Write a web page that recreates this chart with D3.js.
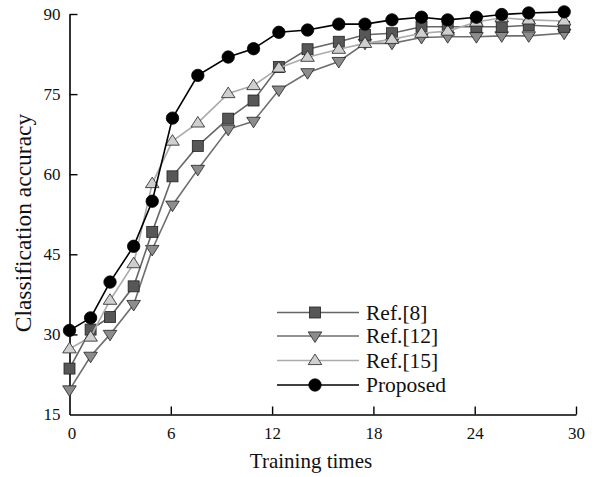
<!DOCTYPE html>
<html><head><meta charset="utf-8">
<script src="https://cdn.jsdelivr.net/npm/d3@7"></script>
<style>body{margin:0;background:#fff}svg{display:block}</style>
</head><body>
<svg id="c" width="595" height="477"></svg>
<script>
const xValues = [0, 1.25, 2.4, 3.8, 4.9, 6.1, 7.6, 9.4, 10.9, 12.4, 14.1, 15.95, 17.5, 19.1, 20.85, 22.4, 24.1, 25.6, 27.2, 29.3];
const ref8 = [23.6, 30.9, 33.25, 39, 49.2, 59.6, 65.3, 70.4, 73.8, 80.1, 83.4, 84.8, 86.1, 86.4, 87.6, 87.6, 87.6, 87.6, 87.9, 87.6];
const ref12 = [19.6, 25.9, 30, 35.6, 45.9, 54.2, 60.9, 68.4, 69.9, 75.75, 79, 81.1, 84.5, 84.5, 85.6, 85.75, 85.75, 85.9, 85.9, 86.4];
const ref15 = [27.3, 29.5, 36.4, 43.25, 58.25, 66.2, 69.6, 75.1, 76.6, 79.9, 81.9, 83.4, 84.5, 85.25, 86.4, 86.8, 88.5, 89.3, 88.9, 88.7];
const proposed = [30.75, 33.1, 39.8, 46.5, 54.94, 70.5, 78.5, 81.94, 83.5, 86.57, 87, 88.1, 88.1, 88.9, 89.4, 88.9, 89.4, 89.9, 90.2, 90.4];
const xTicks = [0, 6, 12, 18, 24, 30];
const yTicks = [15, 30, 45, 60, 75, 90];
const seriesNames = ["Ref.[8]", "Ref.[12]", "Ref.[15]", "Proposed"];

const series = [
  {name: seriesNames[0], values: ref8, line: "#666", fill: "#575757", shape: "square"},
  {name: seriesNames[1], values: ref12, line: "#6e6e6e", fill: "#8c8c8c", shape: "down"},
  {name: seriesNames[2], values: ref15, line: "#ababab", fill: "#cfcfcf", shape: "up"},
  {name: seriesNames[3], values: proposed, line: "#000", fill: "#000", shape: "circle"}
];

const svg = d3.select("#c");
const font = "'Liberation Serif','Times New Roman',serif";
const x = d3.scaleLinear().domain([0, 30]).range([69.5, 576]);
const y = d3.scaleLinear().domain([15, 90]).range([414.5, 14]);

const xAxis = svg.append("g").attr("transform", `translate(0,${y(15)})`)
  .call(d3.axisBottom(x).tickValues(xTicks).tickSizeInner(-8).tickSizeOuter(0).tickPadding(12));
const yAxis = svg.append("g").attr("transform", `translate(${x(0)},0)`)
  .call(d3.axisLeft(y).tickValues(yTicks).tickSizeInner(-8).tickSizeOuter(0).tickPadding(9));
[xAxis, yAxis].forEach(a => {
  a.select(".domain").attr("stroke", "#000").attr("stroke-width", 1.6);
  a.selectAll(".tick line").attr("stroke", "#000").attr("stroke-width", 1.4);
  a.selectAll("text").attr("font-family", font).attr("font-size", 17).attr("fill", "#111");
});
xAxis.selectAll(".tick").filter(d => d === 0).select("line").remove();
xAxis.selectAll(".tick").filter(d => d === 0).select("text").attr("dx", 2);
yAxis.selectAll(".tick").filter(d => d === 15).select("line").remove();

svg.append("text").attr("x", 311).attr("y", 468).attr("text-anchor", "middle")
  .attr("font-family", font).attr("font-size", 21).attr("fill", "#111").text("Training times");
svg.append("text").attr("transform", "translate(31,223) rotate(-90)").attr("text-anchor", "middle")
  .attr("font-family", font).attr("font-size", 23.5).attr("fill", "#111").text("Classification accuracy");

function marker(g, shape, cx, cy, fill) {
  if (shape === "circle") {
    g.append("circle").attr("cx", cx).attr("cy", cy).attr("r", 6.2).attr("fill", fill).attr("stroke", "#000").attr("stroke-width", 0.8);
  } else if (shape === "square") {
    g.append("rect").attr("x", cx - 5.5).attr("y", cy - 5.5).attr("width", 11).attr("height", 11).attr("fill", fill).attr("stroke", "#222").attr("stroke-width", 0.8);
  } else {
    const s = 6.8, dir = shape === "up" ? -1 : 1;
    const pts = [[cx - s, cy - dir * s * 0.6], [cx + s, cy - dir * s * 0.6], [cx, cy + dir * s * 0.95]];
    g.append("path").attr("d", d3.line()(pts) + "Z").attr("fill", fill).attr("stroke", "#222").attr("stroke-width", 0.8);
  }
}

const line = d3.line().x((d, i) => x(xValues[i])).y(d => y(d));
const drawOrder = [1, 0, 2, 3];
drawOrder.forEach(k => {
  const s = series[k];
  const g = svg.append("g");
  g.append("path").datum(s.values).attr("d", line).attr("fill", "none").attr("stroke", s.line).attr("stroke-width", 1.6);
  s.values.forEach((v, i) => marker(g, s.shape, x(xValues[i]), y(v), s.fill));
});

const legY = [312.5, 336, 360.5, 385];
series.forEach((s, k) => {
  const g = svg.append("g");
  g.append("line").attr("x1", 277).attr("x2", 359).attr("y1", legY[k]).attr("y2", legY[k]).attr("stroke", s.line).attr("stroke-width", 1.6);
  marker(g, s.shape, 315, legY[k], s.fill);
  g.append("text").attr("x", 366).attr("y", legY[k] + 7).attr("font-family", font).attr("font-size", 21.5).attr("fill", "#111").text(s.name);
});
</script>
</body></html>
